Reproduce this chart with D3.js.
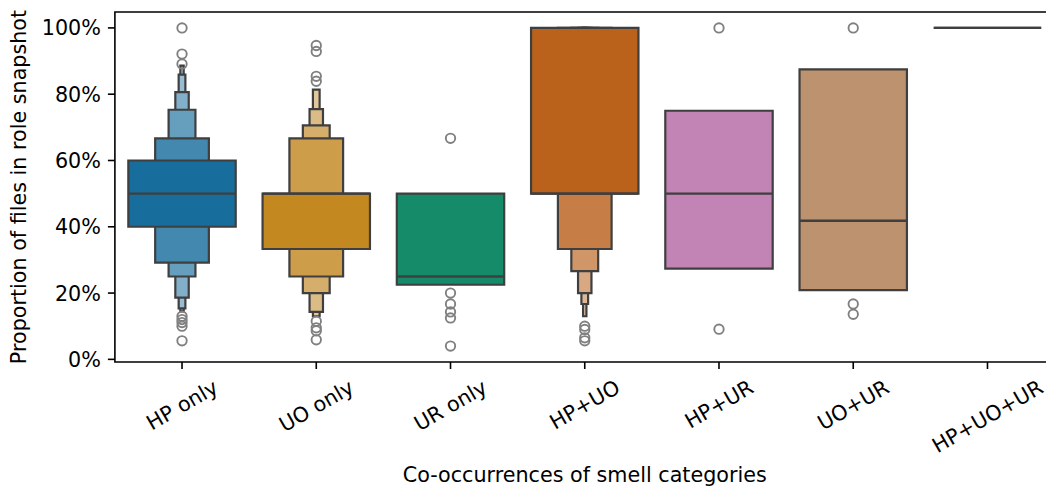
<!DOCTYPE html>
<html>
<head>
<meta charset="utf-8">
<script src="https://cdn.jsdelivr.net/npm/d3@7"></script>
<style>
  html, body { margin: 0; padding: 0; background: #ffffff; }
  svg { display: block; font-family: "DejaVu Sans", sans-serif; }
</style>
</head>
<body>
<svg id="chart" width="1046" height="488"></svg>
<script>
// Smell-category co-occurrences and the share of files in each role snapshot
const categories = ["HP only", "UO only", "UR only", "HP+UO", "HP+UR", "UO+UR", "HP+UO+UR"];
const palette = ["#0173b2", "#de8f05", "#029e73", "#d55e00", "#cc78bc", "#ca9161", "#fbafe4"];

const medians = [0.50, 0.50, 0.25, 0.50, 0.50, 0.418, 1.00];

// Letter values per category, innermost box (quartiles) first
const lowerLetters = [
  [0.400, 0.292, 0.250, 0.186, 0.154, 0.145],
  [0.333, 0.250, 0.200, 0.143, 0.130],
  [0.225],
  [0.500, 0.333, 0.266, 0.200, 0.167, 0.130],
  [0.274],
  [0.209],
  [1.000]
];
const upperLetters = [
  [0.600, 0.667, 0.753, 0.806, 0.859, 0.886],
  [0.500, 0.667, 0.706, 0.755, 0.814],
  [0.500],
  [1.000, 1.000, 1.000, 1.000, 1.000, 1.000],
  [0.750],
  [0.875],
  [1.000]
];

const outliers = [
  [1.000, 0.921, 0.891, 0.130, 0.120, 0.111, 0.100, 0.056],
  [0.947, 0.929, 0.854, 0.839, 0.115, 0.095, 0.086, 0.059],
  [0.667, 0.200, 0.167, 0.143, 0.125, 0.040],
  [0.100, 0.090, 0.065, 0.056],
  [1.000, 0.091],
  [1.000, 0.167, 0.136],
  []
];

const yTicks = [0, 0.2, 0.4, 0.6, 0.8, 1.0];
const xTitle = "Co-occurrences of smell categories";
const yTitle = "Proportion of files in role snapshot";

// ---- layout ----
const plotLeft = 114.9, plotRight = 1054.6, plotTop = 12, plotBottom = 362;
const FONT = 20.7;
const edge = "#3f3f3f";

const svg = d3.select("#chart");

const x = d3.scaleBand().domain(categories).range([plotLeft, plotRight]).paddingInner(0).paddingOuter(0);
const y = d3.scaleLinear().domain([-0.008, 1.048]).range([plotBottom, plotTop]);
const boxWidth = x.bandwidth() * 0.8;

// Level colours: desaturated base colour blended towards a pale tint
function baseColor(c) {
  const h = d3.hsl(c);
  h.s *= 0.75;
  return d3.rgb(h);
}
function levelColor(c, i) {
  const main = baseColor(c);
  const lc = d3.hcl(main);
  const pale = d3.rgb(d3.hcl(lc.h, 3, 95));
  const t = Math.min(1, Math.pow(2, -i / 3));
  return d3.interpolateRgb(pale, main)(t);
}

const plot = svg.append("g");

categories.forEach((cat, ci) => {
  const cx = x(cat) + x.bandwidth() / 2;
  const lows = lowerLetters[ci], highs = upperLetters[ci];
  const g = plot.append("g");
  // outermost (narrowest) level first so wider boxes sit on top
  for (let i = lows.length - 1; i >= 0; i--) {
    const w = boxWidth * Math.pow(2, -i);
    const x0 = cx - w / 2, x1 = cx + w / 2;
    const y0 = y(highs[i]), y1 = y(lows[i]);
    const p = d3.path();
    p.moveTo(x0, y0); p.lineTo(x1, y0); p.lineTo(x1, y1); p.lineTo(x0, y1); p.closePath();
    g.append("path")
      .attr("d", p.toString())
      .attr("fill", levelColor(palette[ci], i))
      .attr("stroke", edge)
      .attr("stroke-width", 2.2)
      .attr("stroke-linejoin", "miter");
  }
  // median line
  g.append("line")
    .attr("x1", cx - boxWidth / 2).attr("x2", cx + boxWidth / 2)
    .attr("y1", y(medians[ci])).attr("y2", y(medians[ci]))
    .attr("stroke", edge).attr("stroke-width", 2.4);
  // outliers
  g.selectAll("circle.flier")
    .data(outliers[ci])
    .join("circle")
    .attr("class", "flier")
    .attr("cx", cx).attr("cy", d => y(d))
    .attr("r", 4.7)
    .attr("fill", "none")
    .attr("stroke", "#808080")
    .attr("stroke-width", 1.9);
});

// ---- frame ----
svg.append("path")
  .attr("d", `M${plotLeft},${plotTop}H${plotRight}V${plotBottom}H${plotLeft}Z`)
  .attr("fill", "none")
  .attr("stroke", "#000")
  .attr("stroke-width", 1.6)
  .attr("stroke-linejoin", "miter");

// ---- y axis ----
const yAxis = svg.append("g");
yTicks.forEach(t => {
  yAxis.append("line")
    .attr("x1", plotLeft - 7).attr("x2", plotLeft)
    .attr("y1", y(t)).attr("y2", y(t))
    .attr("stroke", "#000").attr("stroke-width", 1.6);
  yAxis.append("text")
    .attr("x", plotLeft - 14).attr("y", y(t)).attr("dy", "0.36em")
    .attr("text-anchor", "end")
    .attr("font-size", FONT)
    .attr("fill", "#000")
    .text(d3.format(".0%")(t));
});

// ---- x axis ----
const xAxis = svg.append("g");
categories.forEach(cat => {
  const cx = x(cat) + x.bandwidth() / 2;
  xAxis.append("line")
    .attr("x1", cx).attr("x2", cx)
    .attr("y1", plotBottom).attr("y2", plotBottom + 7)
    .attr("stroke", "#000").attr("stroke-width", 1.6);
  const t = xAxis.append("text")
    .attr("font-size", FONT)
    .attr("fill", "#000")
    .attr("text-anchor", "middle")
    .text(cat);
  const w = t.node().getComputedTextLength();
  const h = FONT * 1.164;
  const a = Math.PI / 6;
  const boxH = w * Math.sin(a) + h * Math.cos(a);
  const cy = plotBottom + 7 + 6 + boxH / 2;
  t.attr("x", cx).attr("y", cy).attr("dy", "0.346em")
    .attr("transform", `rotate(-30,${cx},${cy})`);
});

// ---- titles ----
svg.append("text")
  .attr("x", (plotLeft + plotRight) / 2).attr("y", 482)
  .attr("text-anchor", "middle")
  .attr("font-size", FONT)
  .attr("fill", "#000")
  .text(xTitle);

svg.append("text")
  .attr("transform", `translate(26,${(plotTop + plotBottom) / 2}) rotate(-90)`)
  .attr("text-anchor", "middle")
  .attr("font-size", FONT)
  .attr("fill", "#000")
  .text(yTitle);
</script>
</body>
</html>
